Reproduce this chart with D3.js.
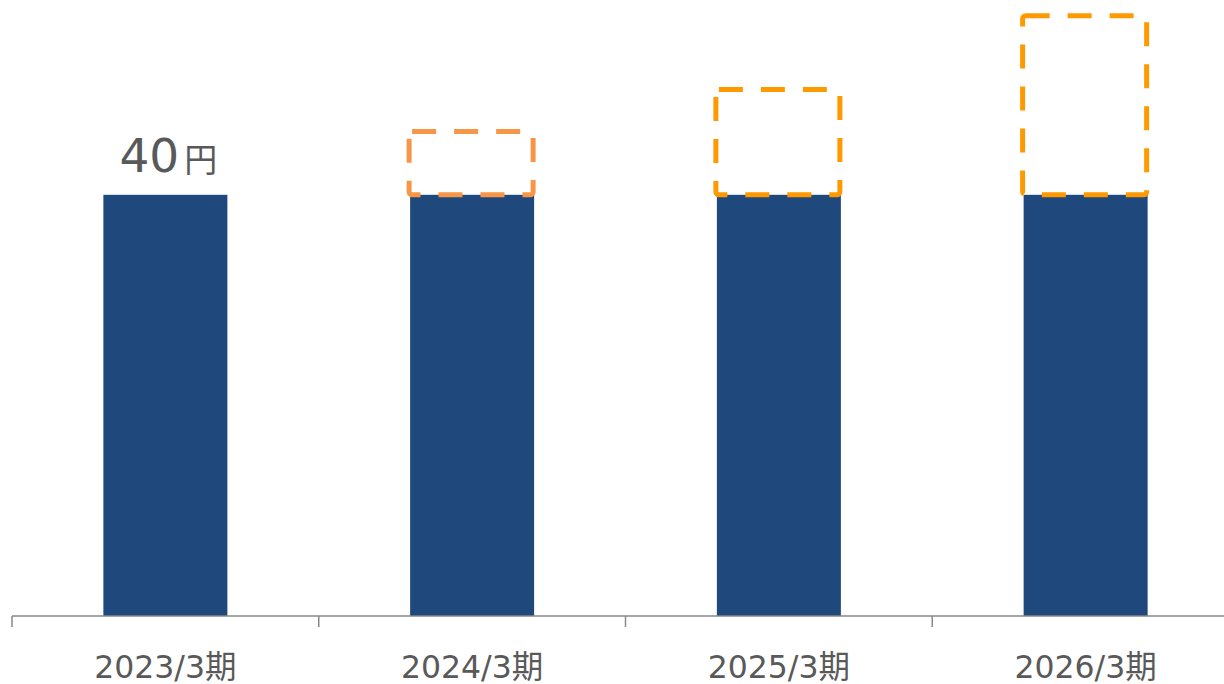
<!DOCTYPE html>
<html><head><meta charset="utf-8">
<script src="https://cdn.jsdelivr.net/npm/d3@7"></script>
<style>body{margin:0;background:#fff}svg{display:block}</style>
</head><body>
<svg id="c" width="1224" height="684"></svg>
<script>
const categories = ["2023/3期","2024/3期","2025/3期","2026/3期"];
const actual = [40, 40, 40, 40];
const target = [null, 46, 50, 57];
const targetColors = [null, "#F79646", "#FF9900", "#FF9900"];
const valueLabel = {value: "40", unit: "円", index: 0};

const svg = d3.select("#c");
const x = d3.scaleBand().domain(categories).range([12, 1239]).paddingInner(0).paddingOuter(0);
const y = d3.scaleLinear().domain([0, 58.5]).range([616, 0]);
const bw = 124;
const cx = d => x(d) + x.bandwidth()/2;

svg.selectAll("rect.bar").data(categories).enter().append("rect")
  .attr("x", d => cx(d) - bw/2).attr("width", bw)
  .attr("y", (d,i) => y(actual[i])).attr("height", (d,i) => y(0) - y(actual[i]))
  .attr("fill", "#1F497D");

const tgt = categories.map((c,i)=>({c, v: target[i], col: targetColors[i], base: actual[i]})).filter(d=>d.v!=null);
svg.selectAll("rect.tgt").data(tgt).enter().append("rect")
  .attr("x", d => cx(d.c) - bw/2 - 1).attr("width", bw)
  .attr("y", d => y(d.v)).attr("height", d => y(d.base) - y(d.v))
  .attr("rx", 3)
  .attr("fill", "none").attr("stroke", d => d.col).attr("stroke-width", 5)
  .attr("stroke-dasharray", "24,18");

// axis
const g = svg.append("g").attr("transform", "translate(0,616)");
g.append("line").attr("x1", 12).attr("x2", 1239).attr("y1", 0).attr("y2", 0).attr("stroke", "#898989").attr("stroke-width", 1.5);
g.selectAll("line.tk").data(categories).enter().append("line")
  .attr("x1", d => x(d)).attr("x2", d => x(d)).attr("y1", 0).attr("y2", 11)
  .attr("stroke", "#898989").attr("stroke-width", 1.5);
g.selectAll("text").data(categories).enter().append("text")
  .attr("x", d => cx(d)).attr("y", 62).attr("text-anchor", "middle")
  .attr("font-family", "'DejaVu Sans','Noto Sans CJK JP',sans-serif").attr("font-size", 31.5)
  .attr("fill", "#595959").text(d => d);

// value label
const lt = svg.append("text")
  .attr("x", cx(categories[valueLabel.index]) + 3).attr("y", y(actual[valueLabel.index]) - 23)
  .attr("text-anchor", "middle").attr("fill", "#595959")
  .attr("font-family", "'DejaVu Sans','Noto Sans CJK JP',sans-serif");
lt.append("tspan").attr("font-size", 47).text(valueLabel.value);
lt.append("tspan").attr("dx", 5).attr("font-size", 33).attr("font-family", "'Noto Sans CJK JP',sans-serif").text(valueLabel.unit);
</script>
</body></html>
